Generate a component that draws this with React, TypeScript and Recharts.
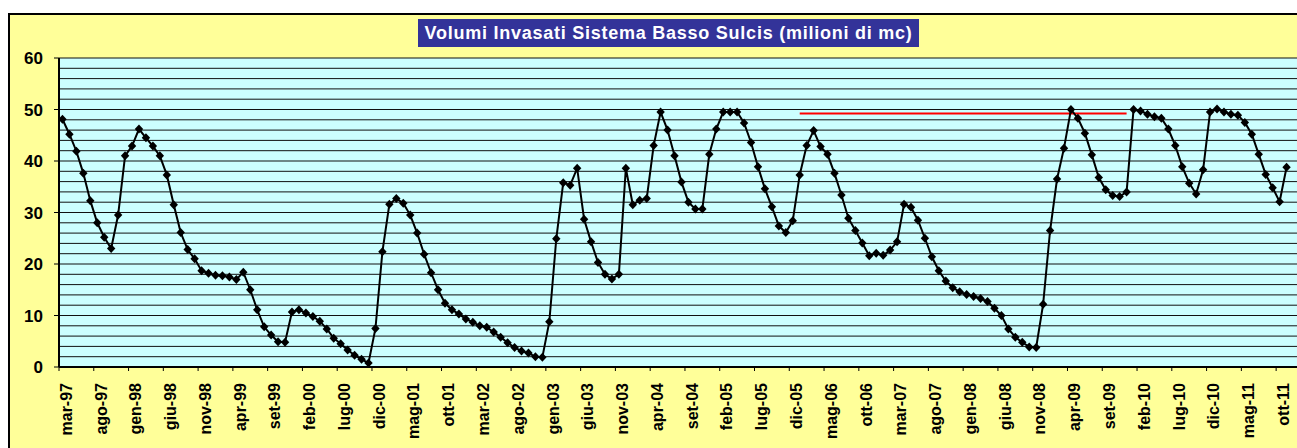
import React from 'react';
import { LineChart, Line, XAxis, YAxis, CartesianGrid, ReferenceLine } from 'recharts';

// Monthly stored volume (milioni di mc), mar-97 .. nov-11
const volumes: number[] = [
  48.1, 45.2, 41.9, 37.6, 32.3, 28.0, 25.2, 23.0, 29.5, 41.0,
  42.9, 46.2, 44.5, 42.9, 41.0, 37.3, 31.5, 26.1, 22.8, 21.0,
  18.7, 18.2, 17.8, 17.7, 17.5, 17.0, 18.4, 15.0, 11.1, 7.8,
  6.2, 4.9, 4.8, 10.7, 11.1, 10.5, 9.8, 8.9, 7.4, 5.6,
  4.5, 3.3, 2.3, 1.5, 0.8, 7.5, 22.4, 31.6, 32.7, 31.8,
  29.5, 26.0, 21.9, 18.3, 15.0, 12.4, 11.1, 10.3, 9.3, 8.7,
  8.0, 7.7, 6.8, 5.8, 4.7, 3.8, 3.1, 2.7, 2.0, 1.9,
  8.8, 24.9, 35.8, 35.3, 38.6, 28.7, 24.3, 20.3, 18.0, 17.1,
  18.0, 38.6, 31.5, 32.4, 32.7, 43.0, 49.5, 46.0, 41.0, 35.9,
  32.0, 30.7, 30.7, 41.3, 46.2, 49.5, 49.5, 49.5, 47.4, 43.6,
  38.9, 34.6, 31.1, 27.4, 26.1, 28.4, 37.3, 43.0, 45.9, 42.8,
  41.3, 37.6, 33.4, 28.9, 26.5, 24.1, 21.6, 22.1, 21.7, 22.7,
  24.3, 31.6, 31.0, 28.5, 25.0, 21.4, 18.7, 16.7, 15.4, 14.6,
  14.1, 13.7, 13.3, 12.7, 11.4, 10.0, 7.4, 5.8, 4.8, 3.9,
  3.8, 12.2, 26.5, 36.5, 42.5, 50.0, 48.3, 45.4, 41.2, 36.8,
  34.4, 33.3, 33.1, 34.0, 50.0, 49.7, 49.1, 48.6, 48.3, 46.2,
  43.0, 38.9, 35.7, 33.6, 38.3, 49.5, 50.1, 49.5, 49.1, 48.9,
  47.5, 45.2, 41.3, 37.4, 34.8, 32.1, 38.8,
];

// Category axis: 178 monthly slots (last one empty), label every 5 months
const categoryCount = 178;
const labelStep = 5;
const tickLabels: string[] = [
  'mar-97', 'ago-97', 'gen-98', 'giu-98', 'nov-98', 'apr-99', 'set-99', 'feb-00', 'lug-00',
  'dic-00', 'mag-01', 'ott-01', 'mar-02', 'ago-02', 'gen-03', 'giu-03', 'nov-03', 'apr-04',
  'set-04', 'feb-05', 'lug-05', 'dic-05', 'mag-06', 'ott-06', 'mar-07', 'ago-07', 'gen-08',
  'giu-08', 'nov-08', 'apr-09', 'set-09', 'feb-10', 'lug-10', 'dic-10', 'mag-11', 'ott-11',
];

const yTicks: number[] = [0, 10, 20, 30, 40, 50, 60];
const gridValues: number[] = [
  0, 2, 4, 6, 8, 10, 12, 14, 16, 18, 20, 22, 24, 26, 28, 30,
  32, 34, 36, 38, 40, 42, 44, 46, 48, 50, 52, 54, 56, 58, 60,
];

// Red reference level
const redLineStart = 106;
const redLineEnd = 153;
const redLineLevel = 49.2;

const title = 'Volumi Invasati Sistema Basso Sulcis (milioni di mc)';

const data = volumes.map((v, i) => ({ idx: i, v }));
// label ticks at category centres, tick marks at category boundaries
const xTicks: number[] = [];
tickLabels.forEach((_, k) => {
  xTicks.push(k * labelStep - 0.5);
  xTicks.push(k * labelStep);
});

const FONT = '"Liberation Sans", Arial, sans-serif';

const Diamond = (props: any) => {
  const { cx, cy, index } = props;
  if (cx == null || cy == null) return <g key={`d${index}`} />;
  return (
    <path
      key={`d${index}`}
      d={`M${cx},${cy - 4.5}L${cx + 4.2},${cy}L${cx},${cy + 4.5}L${cx - 4.2},${cy}Z`}
      fill="#000"
      stroke="none"
    />
  );
};

const XTick = (props: any) => {
  const { x, y, payload } = props;
  const v = payload.value as number;
  if (!Number.isInteger(v)) {
    return <line x1={x} y1={y} x2={x} y2={y + 4} stroke="#000" strokeWidth={1} />;
  }
  const label = tickLabels[Math.round(v / labelStep)] ?? '';
  return (
    <text
      x={0}
      y={0}
      transform={`translate(${x + 3.5},${y + 16}) rotate(-90)`}
      textAnchor="end"
      dy="0.36em"
      fontFamily={FONT}
      fontWeight="bold"
      fontSize={16}
      fill="#000"
    >
      {label}
    </text>
  );
};

export default function App() {
  return (
    <div
      style={{
        position: 'fixed',
        left: 0,
        top: 0,
        width: 1297,
        height: 448,
        overflow: 'hidden',
        background: '#fff',
      }}
    >
      <div
        style={{
          position: 'absolute',
          left: 8,
          top: 13,
          width: 1320,
          height: 470,
          background: '#FFFF99',
          border: '2px solid #000',
          boxSizing: 'border-box',
        }}
      />
      <div style={{ position: 'absolute', left: 0, top: 0 }}>
        <LineChart
          width={1297}
          height={448}
          data={data}
          margin={{ top: 58, right: 0, bottom: 0, left: 9 }}
        >
          <CartesianGrid
            vertical={false}
            horizontalValues={gridValues}
            stroke="#111"
            strokeWidth={1}
            fill="#CCFFFF"
            fillOpacity={1}
          />
          <XAxis
            type="number"
            dataKey="idx"
            domain={[-0.5, categoryCount - 0.5]}
            ticks={xTicks}
            interval={0}
            tick={<XTick />}
            tickLine={false}
            tickSize={0}
            tickMargin={0}
            axisLine={{ stroke: '#000', strokeWidth: 2 }}
            height={81}
          />
          <YAxis
            type="number"
            domain={[0, 60]}
            ticks={yTicks}
            interval={0}
            width={50}
            tickSize={5}
            tickMargin={11}
            axisLine={{ stroke: '#000', strokeWidth: 2 }}
            tickLine={{ stroke: '#000', strokeWidth: 1 }}
            tick={{ fill: '#000', fontSize: 17, fontWeight: 'bold', fontFamily: FONT }}
          />
          <ReferenceLine
            segment={[
              { x: redLineStart, y: redLineLevel },
              { x: redLineEnd, y: redLineLevel },
            ]}
            stroke="#FF0000"
            strokeWidth={2}
          />
          <Line
            type="linear"
            dataKey="v"
            stroke="#000"
            strokeWidth={2}
            dot={Diamond}
            activeDot={false}
            isAnimationActive={false}
          />
        </LineChart>
      </div>
      <div
        style={{
          position: 'absolute',
          left: 418,
          top: 19,
          width: 501,
          height: 28,
          background: '#333399',
          color: '#fff',
          fontFamily: FONT,
          fontWeight: 'bold',
          fontSize: 18,
          letterSpacing: 0.75,
          lineHeight: '28px',
          textAlign: 'center',
          whiteSpace: 'nowrap',
        }}
      >
        {title}
      </div>
    </div>
  );
}
